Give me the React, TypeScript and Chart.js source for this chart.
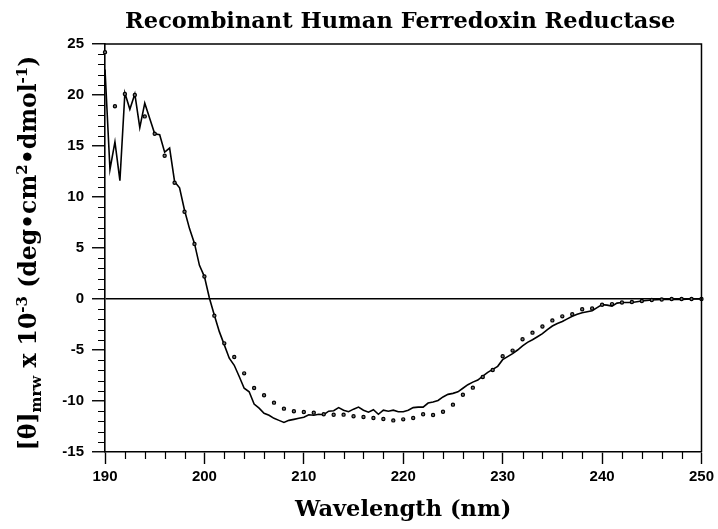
import React, { useEffect, useRef } from "react";
import { Chart, registerables } from "chart.js";
Chart.register(...registerables);

const lineWavelengths = [
  190.0, 190.5, 191.0, 191.5, 192.0, 192.5, 193.0, 193.5, 194.0, 194.5,
  195.0, 195.5, 196.0, 196.5, 197.0, 197.5, 198.0, 198.5, 199.0, 199.5,
  200.0, 200.5, 201.0, 201.5, 202.0, 202.5, 203.0, 203.5, 204.0, 204.5,
  205.0, 205.5, 206.0, 206.5, 207.0, 207.5, 208.0, 208.5, 209.0, 209.5,
  210.0, 210.5, 211.0, 211.5, 212.0, 212.5, 213.0, 213.5, 214.0, 214.5,
  215.0, 215.5, 216.0, 216.5, 217.0, 217.5, 218.0, 218.5, 219.0, 219.5,
  220.0, 220.5, 221.0, 221.5, 222.0, 222.5, 223.0, 223.5, 224.0, 224.5,
  225.0, 225.5, 226.0, 226.5, 227.0, 227.5, 228.0, 228.5, 229.0, 229.5,
  230.0, 230.5, 231.0, 231.5, 232.0, 232.5, 233.0, 233.5, 234.0, 234.5,
  235.0, 235.5, 236.0, 236.5, 237.0, 237.5, 238.0, 238.5, 239.0, 239.5,
  240.0, 240.5, 241.0, 241.5, 242.0, 243.0, 244.0, 245.0, 246.0, 247.0,
  248.0, 249.0, 250.0,
];
const lineValues = [
  22.5, 12.7, 15.4, 11.6, 20.2, 18.6, 20.1, 16.8, 19.2, 17.7,
  16.2, 16.1, 14.4, 14.8, 11.5, 10.9, 8.7, 6.9, 5.45, 3.3,
  2.2, 0.1, -1.6, -3.2, -4.5, -5.8, -6.5, -7.6, -8.75, -9.1,
  -10.3, -10.7, -11.2, -11.4, -11.7, -11.9, -12.1, -11.9, -11.8, -11.7,
  -11.6, -11.35, -11.4, -11.3, -11.35, -11.0, -10.95, -10.65, -10.9, -11.05,
  -10.8, -10.6, -10.9, -11.1, -10.85, -11.3, -10.9, -11.0, -10.9, -11.05,
  -11.05, -10.9, -10.65, -10.6, -10.6, -10.2, -10.1, -9.95, -9.6, -9.35,
  -9.25, -9.1, -8.75, -8.4, -8.15, -7.95, -7.55, -7.2, -6.9, -6.6,
  -5.95, -5.65, -5.35, -5.0, -4.6, -4.25, -4.0, -3.7, -3.4, -3.0,
  -2.65, -2.4, -2.2, -1.95, -1.7, -1.5, -1.35, -1.25, -1.15, -0.85,
  -0.55, -0.6, -0.7, -0.4, -0.35, -0.35, -0.2, -0.1, -0.05, -0.05,
  -0.05, 0.0, 0.0,
];

const dotWavelengths = [
  190, 191, 192, 193, 194, 195, 196, 197, 198, 199,
  200, 201, 202, 203, 204, 205, 206, 207, 208, 209,
  210, 211, 212, 213, 214, 215, 216, 217, 218, 219,
  220, 221, 222, 223, 224, 225, 226, 227, 228, 229,
  230, 231, 232, 233, 234, 235, 236, 237, 238, 239,
  240, 241, 242, 243, 244, 245, 246, 247, 248, 249, 250,
];
const dotValues = [
  24.2, 18.9, 20.1, 20.0, 17.9, 16.2, 14.05, 11.4, 8.56, 5.4,
  2.2, -1.63, -4.35, -5.69, -7.29, -8.73, -9.44, -10.16, -10.75, -11.01,
  -11.08, -11.14, -11.3, -11.35, -11.34, -11.5, -11.57, -11.67, -11.76, -11.9,
  -11.8, -11.67, -11.3, -11.37, -11.05, -10.36, -9.38, -8.69, -7.65, -6.96,
  -5.62, -5.06, -3.95, -3.3, -2.7, -2.1, -1.7, -1.5, -1.0, -0.93,
  -0.56, -0.5, -0.35, -0.3, -0.2, -0.1, -0.05, 0.0, 0.0, 0.0, 0.0,
];

const xMin = 190;
const xMax = 250;
const xMajorStep = 10;
const xMinorStep = 2;
const yMin = -15;
const yMax = 25;
const yMajorStep = 5;
const yMinorStep = 1;

const titleText = "Recombinant Human Ferredoxin Reductase";
const xTitleText = "Wavelength (nm)";
const yTitleParts: { text: string; kind: "main" | "sub" | "sup" }[] = [
  { text: "[\u03B8]", kind: "main" },
  { text: "mrw", kind: "sub" },
  { text: " x 10", kind: "main" },
  { text: "-3", kind: "sup" },
  { text: " (deg\u2022cm", kind: "main" },
  { text: "2", kind: "sup" },
  { text: "\u2022dmol", kind: "main" },
  { text: "-1", kind: "sup" },
  { text: ")", kind: "main" },
];

const SERIF = '"DejaVu Serif", serif';
const SANS = '"Liberation Sans", Arial, sans-serif';

const decorPlugin = {
  id: "decor",
  afterDraw(chart: any) {
    const { ctx, chartArea } = chart;
    const { left, right, top, bottom } = chartArea;
    const xs = chart.scales.x;
    const ys = chart.scales.y;
    ctx.save();
    // frame top and right
    ctx.strokeStyle = "#000";
    ctx.lineWidth = 1.5;
    ctx.beginPath();
    ctx.moveTo(left, top);
    ctx.lineTo(right, top);
    ctx.lineTo(right, bottom);
    ctx.stroke();
    // minor ticks
    ctx.lineWidth = 1.2;
    ctx.beginPath();
    for (let v = yMin; v <= yMax; v += yMinorStep) {
      if (v % yMajorStep === 0) continue;
      const py = Math.round(ys.getPixelForValue(v)) + 0.5;
      ctx.moveTo(left - 7, py);
      ctx.lineTo(left, py);
    }
    for (let v = xMin; v <= xMax; v += xMinorStep) {
      if (v % xMajorStep === 0) continue;
      const px = Math.round(xs.getPixelForValue(v)) + 0.5;
      ctx.moveTo(px, bottom);
      ctx.lineTo(px, bottom + 7);
    }
    ctx.stroke();

    // titles
    ctx.fillStyle = "#000";
    ctx.textAlign = "center";
    ctx.textBaseline = "alphabetic";
    ctx.font = `bold 22.5px ${SERIF}`;
    const cx = (left + right) / 2;
    ctx.fillText(titleText, cx - 3, 28);
    ctx.fillText(xTitleText, cx, 516);

    // y title with sub/sup
    const mainFont = `bold 23.5px ${SERIF}`;
    const smallFont = `bold 15px ${SERIF}`;
    let total = 0;
    const widths = yTitleParts.map((p) => {
      ctx.font = p.kind === "main" ? mainFont : smallFont;
      const w = ctx.measureText(p.text).width;
      total += w;
      return w;
    });
    ctx.translate(36, 253);
    ctx.rotate(-Math.PI / 2);
    ctx.textAlign = "left";
    let x = -total / 2;
    yTitleParts.forEach((p, i) => {
      ctx.font = p.kind === "main" ? mainFont : smallFont;
      const dy = p.kind === "sub" ? 5 : p.kind === "sup" ? -9 : 0;
      ctx.fillText(p.text, x, dy);
      x += widths[i];
    });
    ctx.restore();
  },
};

export default function App() {
  const ref = useRef<HTMLCanvasElement | null>(null);
  useEffect(() => {
    if (!ref.current) return;
    const chart = new Chart(ref.current, {
      type: "line",
      data: {
        datasets: [
          {
            label: "Measured",
            data: lineWavelengths.map((w, i) => ({ x: w, y: lineValues[i] })),
            borderColor: "#000",
            borderWidth: 1.6,
            pointRadius: 0,
            tension: 0,
            fill: false,
            order: 2,
          },
          {
            label: "Fit",
            data: dotWavelengths.map((w, i) => ({ x: w, y: dotValues[i] })),
            showLine: false,
            pointRadius: 1.6,
            pointBorderWidth: 1.2,
            pointBorderColor: "#000",
            pointBackgroundColor: "#777",
            clip: false as any,
            order: 1,
          },
        ],
      },
      options: {
        responsive: false,
        animation: false,
        events: [],
        layout: { padding: { top: 44, right: 13, left: 0, bottom: 0 } },
        plugins: {
          legend: { display: false },
          title: { display: false },
          tooltip: { enabled: false },
        },
        scales: {
          x: {
            type: "linear",
            min: xMin,
            max: xMax,
            afterFit(scale: any) {
              scale.height = 77;
            },
            ticks: {
              stepSize: xMajorStep,
              color: "#000",
              font: { family: SANS, size: 15, weight: "bold" },
              padding: 4,
              maxRotation: 0,
            },
            grid: {
              drawOnChartArea: false,
              drawTicks: true,
              tickLength: 12,
              tickColor: "#000",
              tickWidth: 1.4,
            },
            border: { color: "#000", width: 1.6 },
          },
          y: {
            type: "linear",
            min: yMin,
            max: yMax,
            afterFit(scale: any) {
              scale.width = 105;
            },
            ticks: {
              stepSize: yMajorStep,
              color: "#000",
              font: { family: SANS, size: 15, weight: "bold" },
              padding: 8,
            },
            grid: {
              drawOnChartArea: true,
              color: (c: any) => (c.tick && c.tick.value === 0 ? "#000" : "rgba(0,0,0,0)"),
              lineWidth: 1.5,
              drawTicks: true,
              tickLength: 13,
              tickColor: "#000",
              tickWidth: 1.4,
            },
            border: { color: "#000", width: 1.6 },
          },
        },
      },
      plugins: [decorPlugin],
    });
    return () => chart.destroy();
  }, []);
  return (
    <div style={{ position: "fixed", left: 0, top: 0, width: 718, height: 529, background: "#fff" }}>
      <canvas ref={ref} width={718} height={529} style={{ display: "block" }} />
    </div>
  );
}
